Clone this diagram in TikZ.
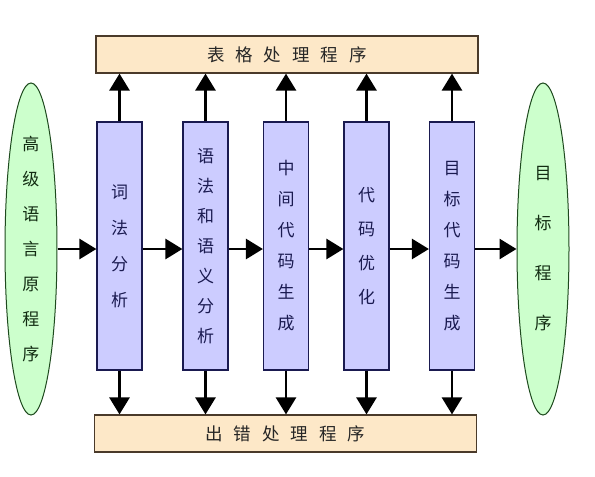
\documentclass[tikz,border=0pt]{standalone}
\usepackage{fontspec}
\newfontfamily\cjk{Noto Sans CJK SC}
\usetikzlibrary{arrows.meta,shapes.geometric}
\definecolor{peach}{HTML}{FDE8C8}
\definecolor{peachline}{HTML}{4A3A2A}
\definecolor{lilac}{HTML}{CCCCFF}
\definecolor{navy}{HTML}{1A1A50}
\definecolor{mint}{HTML}{CCFFCC}
\definecolor{forest}{HTML}{1E4A1E}
\begin{document}
\begin{tikzpicture}[x=1pt,y=-1pt,
  hbar/.style={draw=peachline,fill=peach,line width=1.2pt,minimum width=382pt,minimum height=37pt,inner sep=0pt,font=\cjk\fontsize{17.5}{17.5}\selectfont,text=black!85},
  stage/.style={draw=navy,fill=lilac,line width=1.2pt,minimum width=45pt,minimum height=248pt,inner sep=0pt,align=center,text=navy},
  prog/.style={ellipse,draw=forest,fill=mint,line width=1pt,minimum width=52pt,minimum height=332pt,inner sep=0pt,align=center,text=forest!60!black},
  arr/.style={line width=2.8pt,-{Triangle[width=20pt,length=17pt]}}]
\useasboundingbox (0,0) rectangle (595,477);
\fill[white] (0,0) rectangle (595,477);
\node[hbar] (top) at (287,54.5) {表\hspace{11pt}格\hspace{11pt}处\hspace{11pt}理\hspace{11pt}程\hspace{11pt}序};
\node[hbar] (bot) at (285.5,433.5) {出\hspace{11pt}错\hspace{11pt}处\hspace{11pt}理\hspace{11pt}程\hspace{11pt}序};
\node[prog,font=\cjk\fontsize{17}{35}\selectfont] (src) at (31,249) {高\\级\\语\\言\\原\\程\\序};
\node[prog,font=\cjk\fontsize{17}{50}\selectfont] (dst) at (543,249) {目\\标\\程\\序};
\node[stage,font=\cjk\fontsize{17}{36}\selectfont] (s1) at (119.5,246) {词\\法\\分\\析};
\node[stage,font=\cjk\fontsize{17}{30}\selectfont] (s2) at (205.5,246) {语\\法\\和\\语\\义\\分\\析};
\node[stage,font=\cjk\fontsize{17}{31}\selectfont] (s3) at (286,246) {中\\间\\代\\码\\生\\成};
\node[stage,font=\cjk\fontsize{17}{34}\selectfont] (s4) at (366.5,246) {代\\码\\优\\化};
\node[stage,font=\cjk\fontsize{17}{31}\selectfont] (s5) at (452,246) {目\\标\\代\\码\\生\\成};
\foreach \s in {s1,s2,s3,s4,s5}{
  \draw[arr] (\s.north) -- (\s.north |- top.south);
  \draw[arr] (\s.south) -- (\s.south |- bot.north);
}
\draw[arr] (src.east) -- (s1.west |- src.east);
\draw[arr] (s1.east |- src.east) -- (s2.west |- src.east);
\draw[arr] (s2.east |- src.east) -- (s3.west |- src.east);
\draw[arr] (s3.east |- src.east) -- (s4.west |- src.east);
\draw[arr] (s4.east |- src.east) -- (s5.west |- src.east);
\draw[arr] (s5.east |- src.east) -- (dst.west);
\end{tikzpicture}
\end{document}
